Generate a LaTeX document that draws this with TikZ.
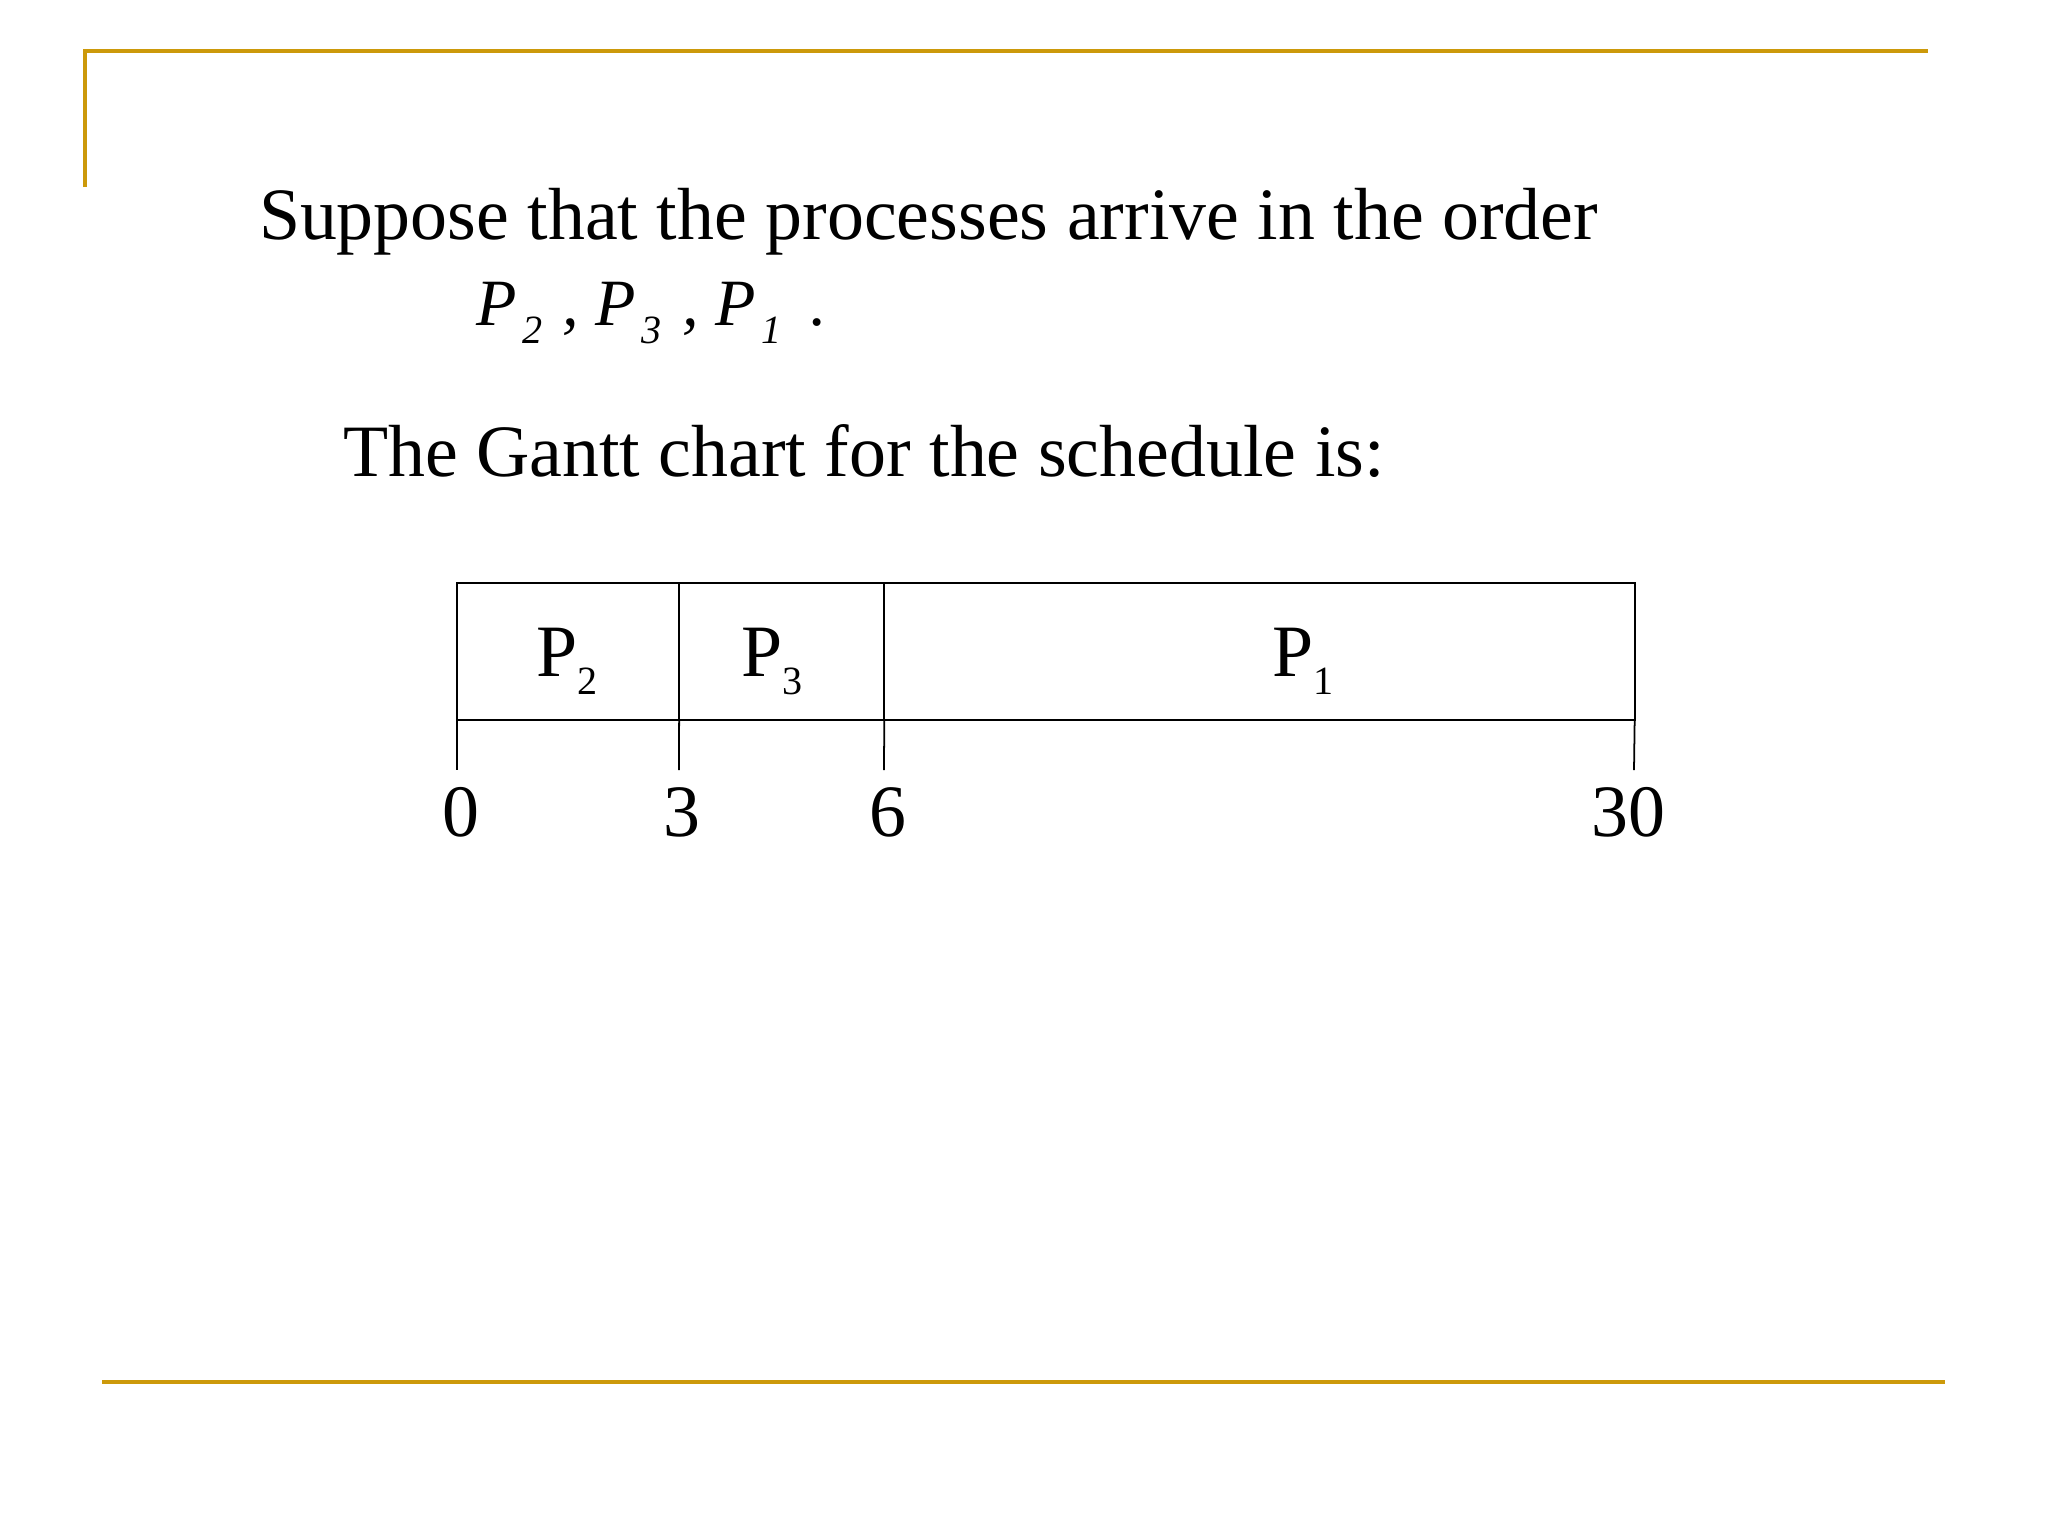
\documentclass[tikz,border=0pt]{standalone}
\usepackage{fontspec}
\setmainfont{Liberation Serif}
\definecolor{slidegold}{RGB}{204,153,10}
\newcommand{\lowidx}[1]{\raisebox{-5.2pt}{\fontsize{11.4}{13}\selectfont #1}}

\begin{document}
\begin{tikzpicture}[x=0.01cm,y=-0.01cm,
    txt/.style={inner sep=0pt, outer sep=0pt, font=\fontsize{21}{25}\selectfont},
    cell/.style={draw, line width=0.6pt, inner sep=0pt, outer sep=0pt,
                 minimum height=1.37cm, anchor=south west},
    tick/.style={line width=0.5pt},
    rule/.style={slidegold, line width=1.2pt}]
    \useasboundingbox (0,0) rectangle (2048,1536);
    % slide frame
    \coordinate (tl) at (85,51);
    \coordinate (tr) at (1928,51);
    \coordinate (lb) at (85,187);
    \coordinate (bl) at (102,1382);
    \coordinate (br) at (1945,1382);
    \draw[rule] (lb) -- (tl) -- (tr);
    \draw[rule] (bl) -- (br);
    % text
    \node[txt, anchor=base west] (intro) at (259,239) {Suppose that the processes arrive in the order};
    \node[txt, anchor=base west, font=\fontsize{18.8}{22}\selectfont\itshape] (order) at (476,325)
        {P\kern1.6pt\lowidx{2}\kern1.2pt{} , P\kern1.6pt\lowidx{3}\kern1.2pt{} , P\kern1.6pt\lowidx{1}\kern3.6pt{} .};
    \node[txt, anchor=base west] (gantt) at (343,476) {The Gantt chart for the schedule is:};
    % chart
    \node[cell, minimum width=2.22cm] (p2) at (457,720) {};
    \node[cell, minimum width=2.05cm] (p3) at (p2.south east) {};
    \node[cell, minimum width=7.50cm] (p1) at (p3.south east) {};
    \node[txt, anchor=base west] (l2) at (536,676) {P\lowidx{2}};
    \node[txt, anchor=base west] (l3) at (741,676) {P\lowidx{3}};
    \node[txt, anchor=base west] (l1) at (1272,676) {P\lowidx{1}};
    % time axis
    \coordinate (t0) at (457,770);
    \coordinate (t3) at (679,770);
    \coordinate (t6) at (884,770);
    \coordinate (t30) at (1634,770);
    \draw[tick] (p2.south west) -- (t0);
    \draw[tick] (p3.south west) -- (t3);
    \draw[tick] (p1.south west) -- (t6);
    \draw[tick] (p1.south east) -- (t30);
    \node[txt, anchor=base] (n0) at (461,836) {0};
    \node[txt, anchor=base] (n3) at (682,836) {3};
    \node[txt, anchor=base] (n6) at (888,836) {6};
    \node[txt, anchor=base] (n30) at (1628,836) {30};
\end{tikzpicture}
\end{document}
